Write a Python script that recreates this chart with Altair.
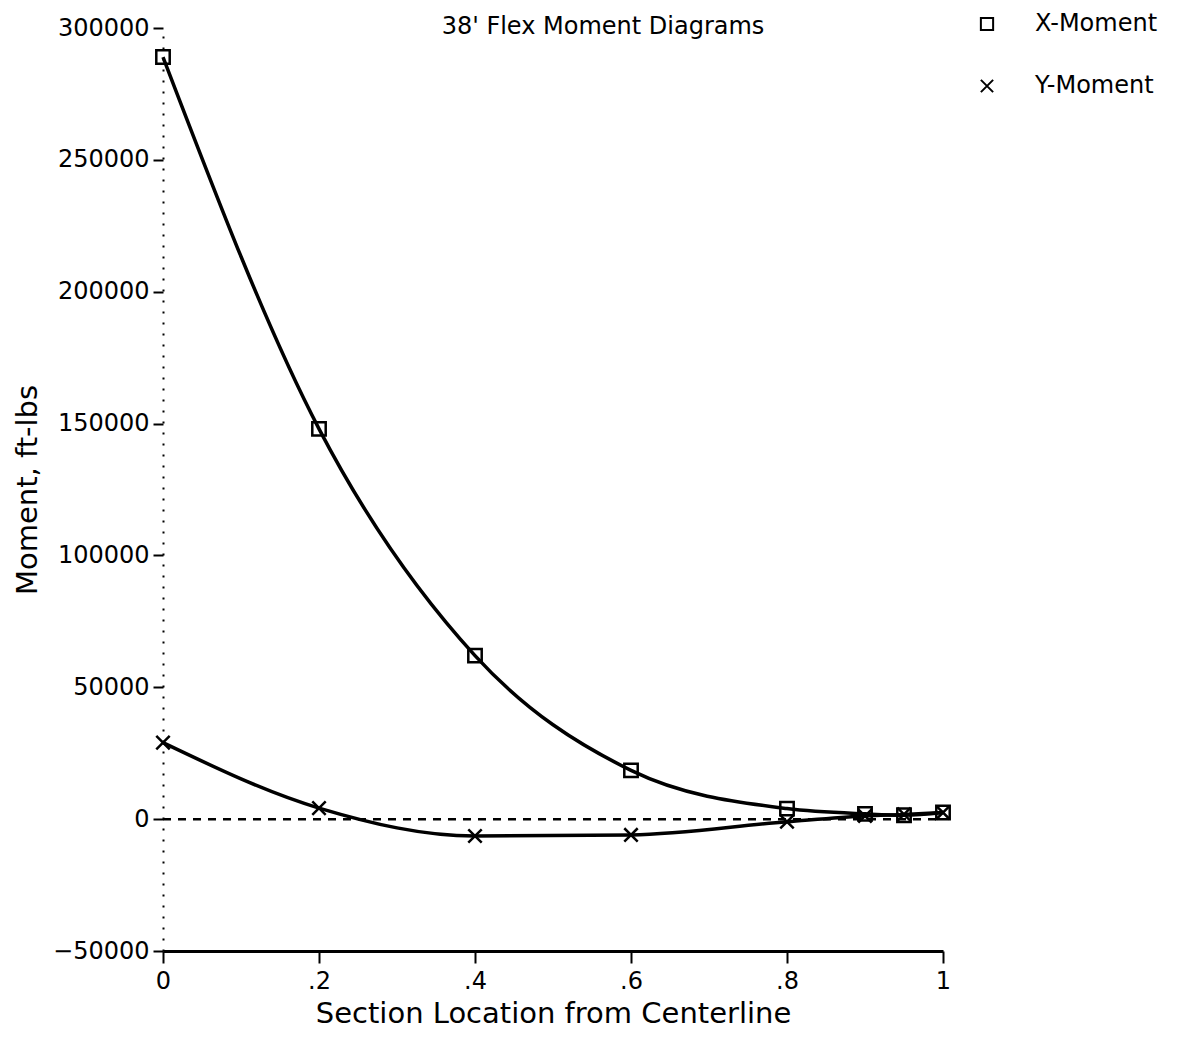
import altair as alt
import pandas as pd

positions = [0.0, 0.2, 0.4, 0.6, 0.8, 0.9, 0.95, 1.0]
x_moment = [289000, 148000, 62000, 18500, 4000, 2000, 1500, 2500]
y_moment = [29000, 4200, -6400, -6000, -1000, 1200, 1800, 2500]
series_names = ["X-Moment", "Y-Moment"]
x_tick_values = [0, 0.2, 0.4, 0.6, 0.8, 1.0]
y_tick_values = [-50000, 0, 50000, 100000, 150000, 200000, 250000, 300000]

rows = []
for p, v in zip(positions, x_moment):
    rows.append({"pos": p, "moment": v, "series": series_names[0]})
for p, v in zip(positions, y_moment):
    rows.append({"pos": p, "moment": v, "series": series_names[1]})
df = pd.DataFrame(rows)

FONT = "DejaVu Sans"
xpath = "M-1,-1L1,1M-1,1L1,-1"

xenc = alt.X(
    "pos:Q",
    scale=alt.Scale(domain=[0, 1], nice=False, zero=False),
    axis=alt.Axis(
        values=x_tick_values,
        labelExpr="datum.value == 0 ? '0' : datum.value == 1 ? '1' : replace(format(datum.value, '.1f'), '0.', '.')",
        title="Section Location from Centerline",
        titleFontSize=29, titleFont=FONT, titleFontWeight="normal",
        titlePadding=6, titleColor="black",
        labelFontSize=24, labelFont=FONT, labelColor="black", labelPadding=6,
        domainColor="black", domainWidth=3, tickColor="black", tickWidth=2, tickSize=12,
        grid=False, labelFlush=False,
    ),
)
yenc = alt.Y(
    "moment:Q",
    scale=alt.Scale(domain=[-50000, 300000], nice=False),
    axis=alt.Axis(
        values=y_tick_values,
        format="d",
        title="Moment, ft-lbs",
        titleFontSize=29, titleFont=FONT, titleFontWeight="normal",
        titlePadding=10, titleColor="black",
        labelFontSize=24, labelFont=FONT, labelColor="black", labelPadding=4,
        domainColor="black", domainWidth=2, domainDash=[2, 9],
        tickColor="black", tickWidth=2, tickSize=10,
        grid=False,
    ),
)

lines = alt.Chart(df).mark_line(color="black", strokeWidth=3.5, interpolate="monotone").encode(
    x=xenc, y=yenc, detail="series:N"
)

points = alt.Chart(df).mark_point(color="black", strokeWidth=2.5, size=180, filled=False, opacity=1).encode(
    x="pos:Q",
    y="moment:Q",
    shape=alt.Shape(
        "series:N",
        scale=alt.Scale(domain=series_names, range=["square", xpath]),
        legend=alt.Legend(
            orient="none", legendX=812, legendY=-16, title=None,
            labelFontSize=24, labelFont=FONT, labelColor="black", labelOffset=36,
            symbolSize=150, symbolStrokeColor="black", symbolStrokeWidth=2,
            symbolFillColor="transparent", rowPadding=38,
        ),
    ),
)

zero_df = pd.DataFrame({"x0": [0.0], "x1": [1.0], "y0": [0]})
zero_line = alt.Chart(zero_df).mark_rule(color="black", strokeWidth=2.5, strokeDash=[8, 7]).encode(
    x="x0:Q", x2="x1:Q", y="y0:Q"
)

title_df = pd.DataFrame({"t": ["38' Flex Moment Diagrams"]})
title = alt.Chart(title_df).mark_text(
    fontSize=24, font=FONT, color="black", baseline="alphabetic", align="center"
).encode(x=alt.value(440), y=alt.value(6), text="t:N")

chart = alt.layer(zero_line, lines, points, title).properties(
    width=780, height=923,
    autosize="none",
    padding={"left": 155, "top": 20, "right": 230, "bottom": 83},
).configure(background="white").configure_view(strokeWidth=0, stroke="transparent")

chart.save("out.html", embed_options={"renderer": "svg", "actions": False})
